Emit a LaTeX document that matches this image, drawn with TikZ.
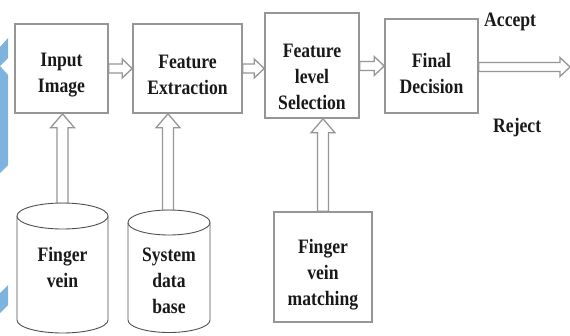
\documentclass[tikz,border=0pt]{standalone}
\usepackage{fontspec}
\setmainfont[FakeStretch=0.86]{Liberation Serif}
\usetikzlibrary{calc}
\definecolor{boxgray}{HTML}{969696}
\definecolor{cylgray}{HTML}{505050}
\definecolor{edgeblue}{HTML}{7DB3DD}
\tikzset{
  box/.style={draw=boxgray, line width=1.6pt, rectangle, inner sep=0pt},
  txt/.style={align=center, font=\bfseries\fontsize{20.5}{26}\selectfont, text=black!90, inner sep=0pt},
  harr/.style={draw=boxgray, line width=1.3pt, fill=white, line join=miter},
  cyl/.style={draw=cylgray, line width=0.9pt, fill=white},
}
\newcommand\hollowH[2]{%
  \path[harr] let \p1=(#1), \p2=(#2) in
    (\x1,\y1+4.5pt) -- (\x2-10pt,\y1+4.5pt) -- (\x2-10pt,\y1+9.5pt) -- (\x2,\y1)
    -- (\x2-10pt,\y1-9.5pt) -- (\x2-10pt,\y1-4.5pt) -- (\x1,\y1-4.5pt) -- cycle;}
\newcommand\hollowV[2]{%
  \path[harr] let \p1=(#1), \p2=(#2) in
    (\x1-5.5pt,\y1) -- (\x1-5.5pt,\y2-14pt) -- (\x1-12pt,\y2-14pt) -- (\x1,\y2)
    -- (\x1+12pt,\y2-14pt) -- (\x1+5.5pt,\y2-14pt) -- (\x1+5.5pt,\y1) -- cycle;}
\begin{document}
\begin{tikzpicture}[x=1pt,y=-1pt]
\useasboundingbox (0,0) rectangle (570,335);
% blue edge shapes
\fill[edgeblue] (0,47) -- (8,38) -- (8,58) -- (0,66) -- cycle;
\fill[edgeblue] (0,66) -- (8,75) -- (8,165) -- (0,173) -- cycle;
\fill[edgeblue] (0,293) -- (8,285) -- (8,305) -- (0,313) -- cycle;
% boxes
\node[box, minimum width=93pt, minimum height=89pt] (inp) at (61.5,68.5) {};
\node[txt] (inpt) at (61.5,75) {Input\\Image};
\node[box, minimum width=109pt, minimum height=89pt] (fe) at (187.5,68.5) {};
\node[txt] (fet) at (187.5,75) {Feature\\Extraction};
\node[box, minimum width=94pt, minimum height=105pt] (fls) at (312,65.5) {};
\node[txt] (flst) at (312,77) {Feature\\level\\Selection};
\node[box, minimum width=93pt, minimum height=94pt] (fd) at (431.5,66) {};
\node[txt] (fdt) at (431.5,73) {Final\\Decision};
\node[box, minimum width=98pt, minimum height=110pt] (fvm) at (323,267) {};
\node[txt] (fvmt) at (323,275) {Finger\\vein\\matching};
\node[txt, anchor=west] (acc) at (484,22) {Accept};
\node[txt, anchor=west] (rej) at (493,128) {Reject};
\coordinate (out) at (570,67);
% cylinders
\draw[cyl] (17,216) -- (17,320) arc[start angle=180, end angle=360, x radius=45.5pt, y radius=13pt] -- (108,216);
\draw[cyl] (62.5,216) ellipse [x radius=45.5pt, y radius=13pt];
\coordinate (fvtop) at (62.5,203);
\node[txt] (fv) at (62.5,267) {Finger\\vein};
\draw[cyl] (128,222.5) -- (128,320) arc[start angle=180, end angle=360, x radius=41pt, y radius=12.5pt] -- (210,222.5);
\draw[cyl] (169,222.5) ellipse [x radius=41pt, y radius=12.5pt];
\coordinate (sdtop) at (168,210);
\node[txt] (sd) at (169,281) {System\\data\\base};
% horizontal hollow arrows
\hollowH{inp.east}{fe.west}
\hollowH{fe.east}{fls.west}
\hollowH{fls.east |- fd.west}{fd.west}
\hollowH{fd.east |- out}{out}
% vertical hollow arrows
\hollowV{fvtop}{fvtop |- inp.south}
\hollowV{sdtop}{sdtop |- fe.south}
\hollowV{fvm.north}{fvm.north |- fls.south}
\end{tikzpicture}
\end{document}
